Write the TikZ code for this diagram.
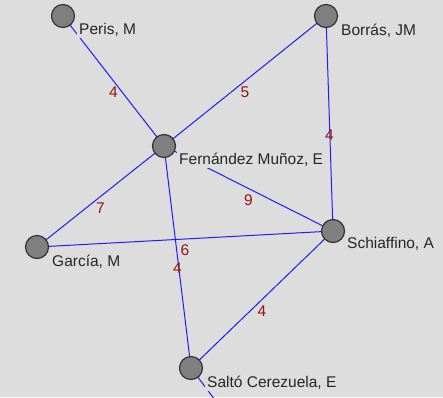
\documentclass[tikz,border=0pt]{standalone}
\usepackage{fontspec}
\setmainfont{Liberation Sans}
\definecolor{bg}{RGB}{221,221,221}
\definecolor{edgeblue}{RGB}{30,30,250}
\definecolor{numred}{RGB}{150,20,20}
\definecolor{nodegray}{RGB}{128,128,128}
\definecolor{nodeline}{RGB}{50,50,50}
\begin{document}
\begin{tikzpicture}[x=1pt,y=-1pt,
  vert/.style={circle,fill=nodegray,draw=nodeline,line width=1.2pt,minimum size=23pt,inner sep=0pt},
  name label/.style={anchor=base west,fill=bg,inner xsep=2pt,inner ysep=2pt,font=\fontsize{15.5}{16}\selectfont,text=black!85},
  link/.style={draw=edgeblue,line width=1pt},
  weight/.style={midway,yshift=-11.5pt,inner sep=0pt,text=numred,font=\fontsize{15.5}{16}\selectfont}]
\fill[bg] (0,0) rectangle (443,397);
\useasboundingbox (0,0) rectangle (443,397);
% vertices (positions)
\coordinate (cP) at (63,16);
\coordinate (cB) at (326,16);
\coordinate (cF) at (164,146);
\coordinate (cG) at (37,247);
\coordinate (cS) at (333,231);
\coordinate (cT) at (191,368);
\coordinate (off) at (230,420);
% edges
\begin{scope}
\clip (0,0) rectangle (443,397);
\draw[link] (cP) -- (cF) node[weight]{4};
\draw[link] (cB) -- (cF) node[weight]{5};
\draw[link] (cB) -- (cS) node[weight]{4};
\draw[link] (cF) -- (cS) node[weight]{9};
\draw[link] (cF) -- (cG) node[weight]{7};
\draw[link] (cG) -- (cS) node[weight]{6};
\draw[link] (cF) -- (cT) node[weight]{4};
\draw[link] (cS) -- (cT) node[weight]{4};
\draw[link] (cT) -- (off);
\end{scope}
% vertex circles
\node[vert] (P) at (cP) {};
\node[vert] (B) at (cB) {};
\node[vert] (F) at (cF) {};
\node[vert] (G) at (cG) {};
\node[vert] (S) at (cS) {};
\node[vert] (T) at (cT) {};
% names
\node[name label] (lP) at (77,34) {Peris, M};
\node[name label] (lB) at (339,35) {Borrás, JM};
\node[name label] (lF) at (177,164) {Fernández Muñoz, E};
\node[name label] (lG) at (50,266) {García, M};
\node[name label] (lS) at (345,248) {Schiaffino, A};
\node[name label] (lT) at (205,387) {Saltó Cerezuela, E};
\end{tikzpicture}
\end{document}
